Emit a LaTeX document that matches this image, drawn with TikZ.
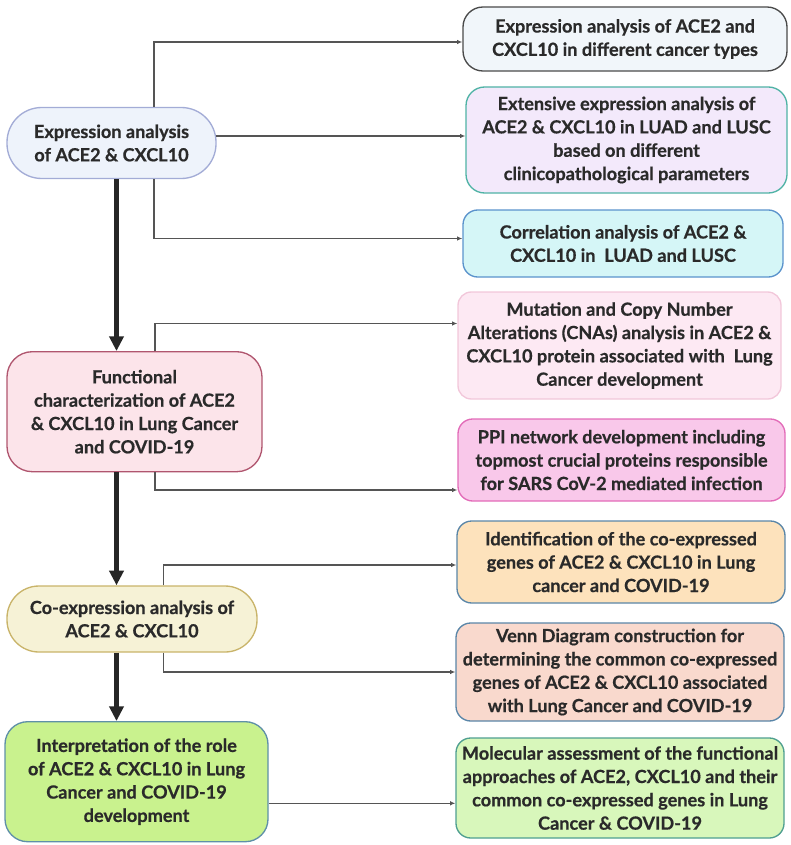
\documentclass[tikz,border=0pt]{standalone}
\usepackage{fontspec}
\setmainfont{Lato}[BoldFeatures={FakeBold=0.6}]
\usepackage{xcolor}
\usetikzlibrary{arrows.meta}
\usetikzlibrary{calc}

\definecolor{textgray}{HTML}{2A2A2A}
\definecolor{linkgray}{HTML}{555555}
\definecolor{flowblack}{HTML}{262626}
\definecolor{exprfill}{HTML}{EEF3FB}
\definecolor{exprline}{HTML}{A3ACD6}
\definecolor{funcfill}{HTML}{FCE4EA}
\definecolor{funcline}{HTML}{B0566F}
\definecolor{coexpfill}{HTML}{F6F2D6}
\definecolor{coexpline}{HTML}{C9B46A}
\definecolor{interpfill}{HTML}{C9F28E}
\definecolor{interpline}{HTML}{5F90A8}
\definecolor{typesfill}{HTML}{F1F6FA}
\definecolor{typesline}{HTML}{4A4A4A}
\definecolor{luadfill}{HTML}{F3E9FB}
\definecolor{luadline}{HTML}{4FB3A5}
\definecolor{corrfill}{HTML}{D5F6F7}
\definecolor{corrline}{HTML}{5B93CC}
\definecolor{mutfill}{HTML}{FDE9F3}
\definecolor{mutline}{HTML}{F2C7DA}
\definecolor{ppifill}{HTML}{F9C8EA}
\definecolor{ppiline}{HTML}{E26BB8}
\definecolor{identfill}{HTML}{FDE2BC}
\definecolor{identline}{HTML}{5A86A8}
\definecolor{vennfill}{HTML}{F9D9CD}
\definecolor{vennline}{HTML}{5A86A8}
\definecolor{molecfill}{HTML}{D8F7BB}
\definecolor{molecline}{HTML}{4F9F90}

\begin{document}
\begin{tikzpicture}[x=0.75pt,y=-0.75pt,
        box/.style={rectangle, draw, line width=1pt, align=center, inner sep=0pt,
            text=textgray, font=\bfseries\fontsize{13.6}{17.5}\selectfont},
        sized/.style 2 args={minimum width=#1*0.75pt, minimum height=#2*0.75pt},
        link/.style={draw=linkgray, line width=1.1pt, -{Latex[length=4pt,width=3.5pt]}},
        flow/.style={draw=flowblack, line width=3.7pt, -{Triangle[length=11pt,width=10.5pt]}}]
        \useasboundingbox (0,0) rectangle (791,845);
        \node[box, sized={209}{71}, rounded corners=26pt, fill=exprfill, draw=exprline] (expr) at (111.5,143) {Expression analysis\\of ACE2 \& CXCL10};
        \node[box, sized={255}{120}, rounded corners=19pt, fill=funcfill, draw=funcline] (func) at (134.5,411.7) {Functional\\characterization of ACE2\\\& CXCL10 in Lung Cancer\\and COVID-19};
        \node[box, sized={250}{66}, rounded corners=24pt, fill=coexpfill, draw=coexpline] (coexp) at (132,619) {Co-expression analysis of\\ACE2 \& CXCL10};
        \node[box, sized={263}{120}, rounded corners=17pt, fill=interpfill, draw=interpline] (interp) at (136.5,781.7) {Interpretation of the role\\of ACE2 \& CXCL10 in Lung\\Cancer and COVID-19\\development};
        \node[box, sized={324}{64}, rounded corners=15pt, fill=typesfill, draw=typesline] (types) at (625,39) {Expression analysis of ACE2 and\\CXCL10 in different cancer types};
        \node[box, sized={321}{106}, rounded corners=14pt, fill=luadfill, draw=luadline] (luad) at (626.5,140) {Extensive expression analysis of\\ACE2 \& CXCL10 in LUAD and LUSC\\based on different\\clinicopathological parameters};
        \node[box, sized={320}{67}, rounded corners=11pt, fill=corrfill, draw=corrline] (corr) at (623,243.5) {Correlation analysis of ACE2 \&\\CXCL10 in~ LUAD and LUSC};
        \node[box, sized={323}{107}, rounded corners=10pt, fill=mutfill, draw=mutline] (mut) at (619.5,345.5) {Mutation and Copy Number\\Alterations (CNAs) analysis in ACE2 \&\\CXCL10 protein associated with~ Lung\\Cancer development};
        \node[box, sized={327}{82}, rounded corners=11pt, fill=ppifill, draw=ppiline] (ppi) at (621.5,460) {PPI network development including\\topmost crucial proteins responsible\\for SARS CoV-2 mediated infection};
        \node[box, sized={328}{82}, rounded corners=11pt, fill=identfill, draw=identline] (ident) at (621,562) {Identification of the co-expressed\\genes of ACE2 \& CXCL10 in Lung\\cancer and COVID-19};
        \node[box, sized={328}{98}, rounded corners=11pt, fill=vennfill, draw=vennline] (venn) at (620,672) {Venn Diagram construction for\\determining the common co-expressed\\genes of ACE2 \& CXCL10 associated\\with Lung Cancer and COVID-19};
        \node[box, sized={328}{100}, rounded corners=11pt, fill=molecfill, draw=molecline] (molec) at (620,788) {Molecular assessment of the functional\\approaches of ACE2, CXCL10 and their\\common co-expressed genes in Lung\\Cancer \& COVID-19};
        \draw[flow] ($(expr.south)+(5,0)$) coordinate (exprdown) -- (exprdown |- func.north);
        \draw[flow] ($(func.south)+(-18,0)$) coordinate (funcdown) -- (funcdown |- coexp.north);
        \draw[flow] ($(coexp.south)+(-15.5,0)$) coordinate (coexpdown) -- (coexpdown |- interp.north);
        \draw[link] ($(expr.north)+(42.5,0)$) |- ($(types.west)+(0,3)$);
        \draw[link] ($(expr.east)+(-1,-7)$) coordinate (exprright) -- (exprright -| luad.west);
        \draw[link] ($(expr.south)+(42.5,0)$) |- ($(corr.west)+(0,-5)$);
        \draw[link] ($(func.north)+(20.5,0)$) |- ($(mut.west)+(0,-22)$);
        \draw[link] ($(func.south)+(20.5,0)$) |- ($(ppi.west)+(0,30)$);
        \draw[link] ($(coexp.north)+(31.3,0)$) |- ($(ident.west)+(0,3)$);
        \draw[link] ($(coexp.south)+(31.3,0)$) |- (venn.west);
        \draw[link] ($(interp.east)+(0,21.6)$) coordinate (interpright) -- (interpright -| molec.west);
    \end{tikzpicture}
\end{document}
